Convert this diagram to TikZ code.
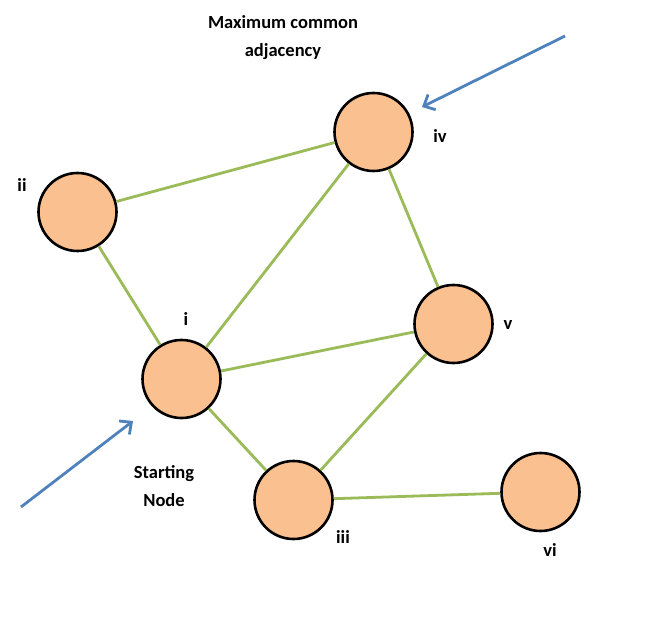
\documentclass[tikz,border=0pt]{standalone}
\usepackage{fontspec}
\setmainfont{Carlito}
\usetikzlibrary{arrows.meta}
\definecolor{nodefill}{HTML}{FAC090}
\definecolor{edgegreen}{HTML}{9BBB59}
\definecolor{arrowblue}{HTML}{4F81BD}
\tikzset{
	vertex/.style={circle, draw=black, line width=2.6pt, fill=nodefill, minimum size=78pt, inner sep=0pt},
	edge/.style={edgegreen, line width=2.8pt},
	pointer/.style={arrowblue, line width=2.8pt, -{Straight Barb[length=9pt,width=17pt]}},
	lbl/.style={font=\fontsize{18.5}{28}\selectfont\bfseries, align=center}
}

\begin{document}
\begin{tikzpicture}[x=1pt, y=-1pt]
	\useasboundingbox (0, 0) rectangle (648, 644);
	\node[vertex] (ii) at (77.5, 212) {};
	\node[vertex] (iv) at (373.5, 132) {};
	\node[vertex] (i) at (181.5, 379) {};
	\node[vertex] (v) at (453.5, 324) {};
	\node[vertex] (iii) at (293.5, 500) {};
	\node[vertex] (vi) at (540.5, 492) {};
	% edges stop at the circle borders
	\draw[edge] (ii) -- (iv);
	\draw[edge] (ii) -- (i);
	\draw[edge] (i) -- (iv);
	\draw[edge] (i) -- (v);
	\draw[edge] (i) -- (iii);
	\draw[edge] (iv) -- (v);
	\draw[edge] (v) -- (iii);
	\draw[edge] (iii) -- (vi);
	\node[lbl] (lii) at (22, 185) {ii};
	\node[lbl] (liv) at (440, 136) {iv};
	\node[lbl] (li) at (186, 319) {i};
	\node[lbl] (lv) at (508, 325) {v};
	\node[lbl] (liii) at (343, 537) {iii};
	\node[lbl] (lvi) at (550, 550) {vi};
	\node[lbl] (maxadj) at (283, 38) {Maximum common\\adjacency};
	\node[lbl] (start) at (164, 486) {Starting\\Node};
	\coordinate (maxtail) at (565, 36);
	\coordinate (maxtip) at (422, 107);
	\coordinate (starttail) at (21, 507);
	\coordinate (starttip) at (133, 421);
	\draw[pointer] (maxtail) -- (maxtip);
	\draw[pointer] (starttail) -- (starttip);
\end{tikzpicture}
\end{document}
